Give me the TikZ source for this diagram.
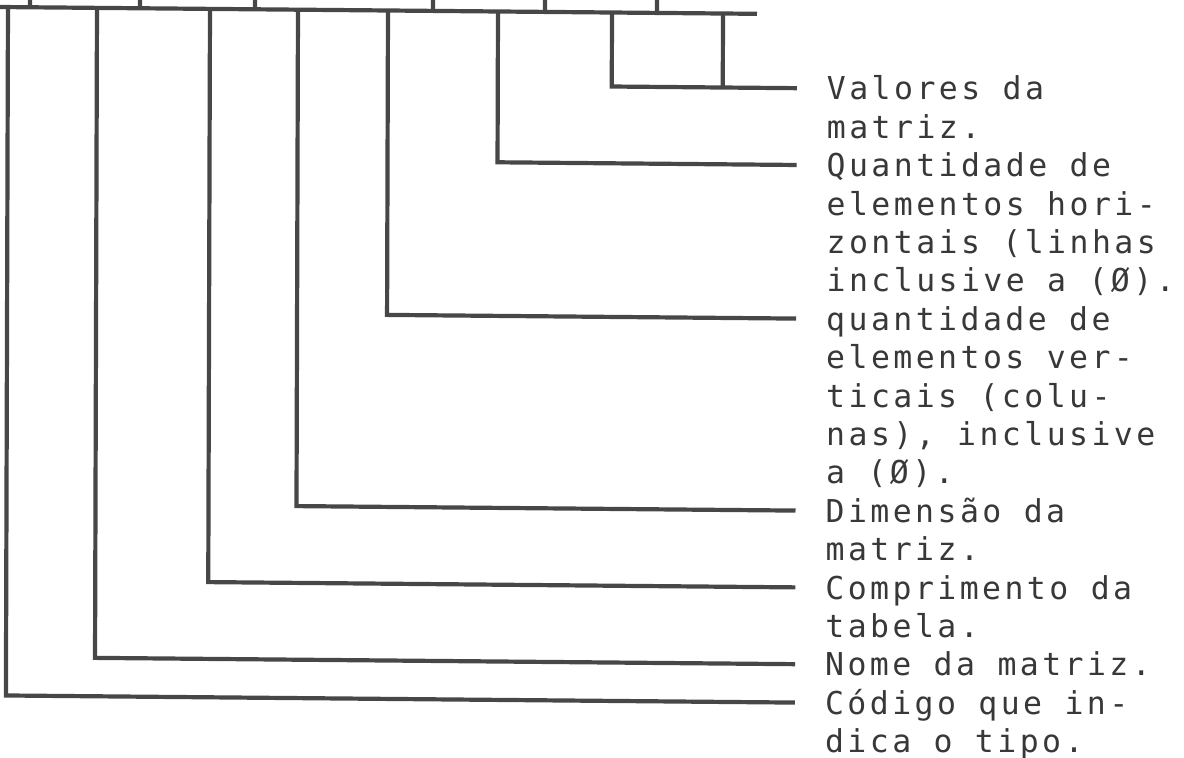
\documentclass[tikz,border=0pt]{standalone}
\usepackage{fontspec}
\newfontfamily\labfont[LetterSpace=10.9]{DejaVu Sans Mono}
\begin{document}
\begin{tikzpicture}[x=1pt,y=-1pt,
  wire/.style={draw=black!72, line width=4.2pt, line join=miter},
  lab/.style={anchor=base west, inner sep=0pt, text=black!78,
    font=\labfont\fontsize{31.5}{38.4}\selectfont}]
\useasboundingbox (0,0) rectangle (1184,758);
\begin{scope}[yslant=-0.009, xslant=0.003]
% bus
\coordinate (bl) at (0,7);
\coordinate (br) at (757,7);
\draw[wire] (bl) -- (br);
% upward ticks
\foreach \x in {30,140,255,433,545,657}
  \draw[wire] (\x,7) -- (\x,-8);
% bus points
\coordinate (b1) at (8,7);
\coordinate (b2) at (97,7);
\coordinate (b3) at (210,7);
\coordinate (b4) at (298,7);
\coordinate (b5) at (388,7);
\coordinate (b6) at (498,7);
\coordinate (b7) at (612,7);
\coordinate (b8) at (723,7);
% corners and connector ends
\coordinate (c1) at (612,81);    \coordinate (e1) at (797,81);
\coordinate (k)  at (723,81);
\coordinate (c2) at (498,157.8); \coordinate (e2) at (797,157.8);
\coordinate (c3) at (388,311.4); \coordinate (e3) at (797,311.4);
\coordinate (c4) at (298,503.4); \coordinate (e4) at (797,503.4);
\coordinate (c5) at (210,580.2); \coordinate (e5) at (797,580.2);
\coordinate (c6) at (97,657);    \coordinate (e6) at (797,657);
\coordinate (c7) at (8,695.4);   \coordinate (e7) at (797,695.4);
% labels (baseline = line centre + 11.5)
\node[lab] (L1) at (827,92.5)  {\begin{tabular}[t]{@{}l@{}}Valores da\\matriz.\end{tabular}};
\node[lab] (L2) at (827,169.3) {\begin{tabular}[t]{@{}l@{}}Quantidade de\\elementos hori-\\zontais (linhas\\inclusive a (Ø).\end{tabular}};
\node[lab] (L3) at (827,322.9) {\begin{tabular}[t]{@{}l@{}}quantidade de\\elementos ver-\\ticais (colu-\\nas), inclusive\\a (Ø).\end{tabular}};
\node[lab] (L4) at (827,514.9) {\begin{tabular}[t]{@{}l@{}}Dimensão da\\matriz.\end{tabular}};
\node[lab] (L5) at (827,591.7) {\begin{tabular}[t]{@{}l@{}}Comprimento da\\tabela.\end{tabular}};
\node[lab] (L6) at (827,668.5) {\begin{tabular}[t]{@{}l@{}}Nome da matriz.\end{tabular}};
\node[lab] (L7) at (827,706.9) {\begin{tabular}[t]{@{}l@{}}Código que in-\\dica o tipo.\end{tabular}};
% connectors
\draw[wire] (b7) -- (c1) -- (e1);
\draw[wire] (b8) -- (k);
\draw[wire] (b6) -- (c2) -- (e2);
\draw[wire] (b5) -- (c3) -- (e3);
\draw[wire] (b4) -- (c4) -- (e4);
\draw[wire] (b3) -- (c5) -- (e5);
\draw[wire] (b2) -- (c6) -- (e6);
\draw[wire] (b1) -- (c7) -- (e7);
\end{scope}
\end{tikzpicture}
\end{document}
